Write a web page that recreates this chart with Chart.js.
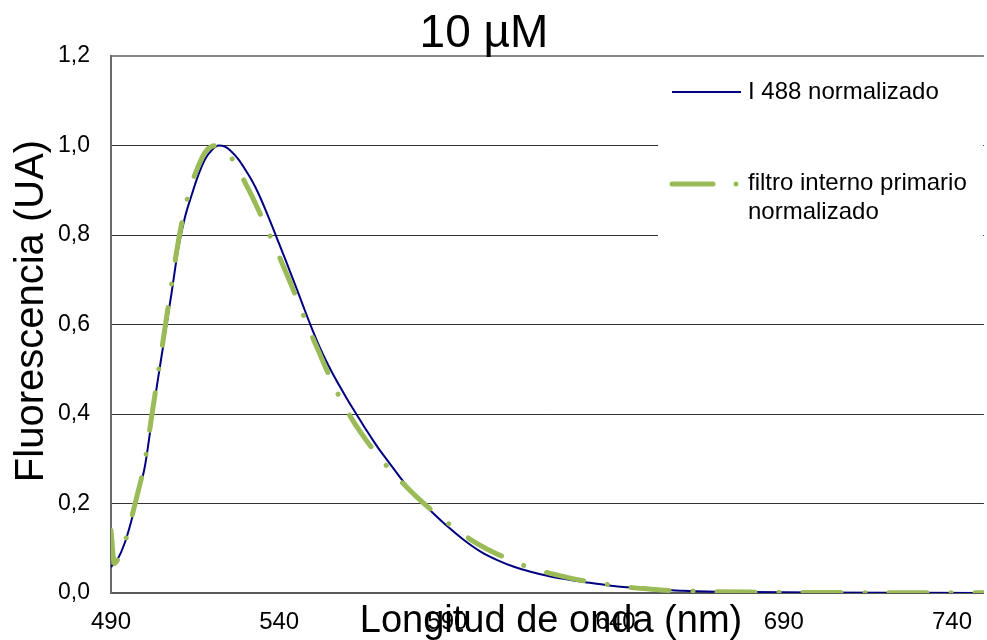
<!DOCTYPE html>
<html>
<head>
<meta charset="utf-8">
<script src="https://cdn.jsdelivr.net/npm/chart.js@4/dist/chart.umd.min.js"></script>
<style>
  html, body { margin: 0; padding: 0; background: #fff; }
  #chart { display: block; }
</style>
</head>
<body>
<canvas id="chart" width="987" height="640"></canvas>
<script>
// Espectros de emision normalizados
const blueNm = [490, 492, 494, 496, 498, 500, 502, 504, 506, 508, 510, 512, 514, 516, 518, 520, 522, 524, 526, 528, 530, 532, 534, 536, 538, 540, 542, 544, 546, 548, 550, 552, 554, 556, 558, 560, 562, 564, 566, 568, 570, 572, 574, 576, 578, 580, 582, 585, 590, 595, 600, 605, 610, 615, 620, 625, 630, 635, 640, 645, 650, 655, 660, 670, 680, 700, 720, 750];
const blueVals = [0.058, 0.076, 0.11, 0.16, 0.22, 0.28, 0.38, 0.48, 0.575, 0.67, 0.77, 0.84, 0.89, 0.935, 0.97, 0.99, 1.0, 0.997, 0.985, 0.968, 0.945, 0.92, 0.89, 0.855, 0.818, 0.78, 0.742, 0.703, 0.664, 0.624, 0.586, 0.55, 0.518, 0.489, 0.462, 0.436, 0.411, 0.387, 0.363, 0.34, 0.318, 0.298, 0.278, 0.258, 0.239, 0.222, 0.206, 0.184, 0.149, 0.118, 0.092, 0.073, 0.058, 0.047, 0.038, 0.031, 0.025, 0.02, 0.015, 0.012, 0.009, 0.007, 0.005, 0.003, 0.002, 0.001, 0.0005, 0];

const greenNm = [490, 491, 492, 494, 496, 498, 500, 502, 504, 506, 508, 510, 512, 514, 516, 518, 520, 522, 524, 526, 528, 530, 532, 534, 536, 538, 540, 542, 544, 546, 548, 550, 552, 555, 558, 562, 566, 570, 574, 578, 582, 586, 590, 594, 598, 602, 606, 610, 615, 620, 625, 630, 635, 640, 645, 650, 655, 660, 670, 680, 700, 720, 750];
const greenVals = [0.14, 0.066, 0.075, 0.11, 0.165, 0.225, 0.29, 0.39, 0.49, 0.59, 0.69, 0.785, 0.86, 0.915, 0.955, 0.985, 0.998, 1.0, 0.99, 0.97, 0.945, 0.915, 0.885, 0.853, 0.82, 0.786, 0.752, 0.717, 0.681, 0.644, 0.606, 0.57, 0.535, 0.484, 0.437, 0.384, 0.34, 0.301, 0.267, 0.236, 0.207, 0.181, 0.157, 0.135, 0.114, 0.097, 0.083, 0.07, 0.055, 0.045, 0.036, 0.028, 0.022, 0.016, 0.012, 0.009, 0.006, 0.005, 0.003, 0.002, 0.001, 0.0007, 0.0003];

const xTicks = [490, 540, 590, 640, 690, 740];
const seriesLabels = ["I 488 normalizado", "filtro interno primario normalizado"];
const chartTitle = "10 µM";
const xTitle = "Longitud de onda (nm)";
const yTitle = "Fluorescencia (UA)";

const FONT = '"Liberation Sans", Arial, sans-serif';
const BLUE = "#000080";
const GREEN = "#9bbb59";

function toPoints(xs, ys) {
  return xs.map((x, i) => ({ x: x, y: ys[i] }));
}

// titulo, titulos de ejes y leyenda dibujados a mano
const overlay = {
  id: "overlay",
  afterDraw(chart) {
    const ctx = chart.ctx;
    ctx.save();
    ctx.fillStyle = "#000";

    ctx.font = "46px " + FONT;
    ctx.textAlign = "center";
    ctx.textBaseline = "alphabetic";
    ctx.fillText(chartTitle, 484, 47);

    ctx.font = "38px " + FONT;
    ctx.fillText(xTitle, 551, 632);

    ctx.save();
    ctx.translate(43, 311);
    ctx.rotate(-Math.PI / 2);
    ctx.font = "40px " + FONT;
    ctx.fillText(yTitle, 0, 0);
    ctx.restore();

    // leyenda
    ctx.fillStyle = "#fff";
    ctx.fillRect(658, 62, 325, 178);

    ctx.lineCap = "butt";
    ctx.strokeStyle = BLUE;
    ctx.lineWidth = 2;
    ctx.beginPath();
    ctx.moveTo(672, 92);
    ctx.lineTo(741, 92);
    ctx.stroke();

    ctx.lineCap = "round";
    ctx.strokeStyle = GREEN;
    ctx.lineWidth = 5;
    ctx.beginPath();
    ctx.moveTo(672, 184);
    ctx.lineTo(713, 184);
    ctx.stroke();
    ctx.beginPath();
    ctx.arc(736, 184, 2.5, 0, Math.PI * 2);
    ctx.fillStyle = GREEN;
    ctx.fill();

    ctx.fillStyle = "#000";
    ctx.font = "24px " + FONT;
    ctx.textAlign = "left";
    ctx.textBaseline = "middle";
    ctx.fillText(seriesLabels[0], 748, 92);
    ctx.fillText("filtro interno primario", 748, 183);
    ctx.fillText("normalizado", 748, 212);
    ctx.restore();
  }
};

new Chart(document.getElementById("chart"), {
  type: "line",
  data: {
    datasets: [{
      label: seriesLabels[0],
      data: toPoints(blueNm, blueVals),
      borderColor: BLUE,
      borderWidth: 2,
      pointRadius: 0,
      cubicInterpolationMode: "monotone",
      order: 1
    }, {
      label: seriesLabels[1],
      data: toPoints(greenNm, greenVals),
      borderColor: GREEN,
      borderWidth: 5,
      borderDash: [38, 24, 0.01, 24],
      borderCapStyle: "round",
      pointRadius: 0,
      cubicInterpolationMode: "monotone",
      order: 0
    }]
  },
  options: {
    responsive: false,
    animation: false,
    layout: { padding: { top: 56, left: 0, right: 0, bottom: 0 } },
    plugins: {
      legend: { display: false },
      title: { display: false },
      tooltip: { enabled: false }
    },
    scales: {
      x: {
        type: "linear",
        min: 490,
        max: 749.5,
        afterFit(scale) { scale.height = 47; },
        afterBuildTicks(scale) {
          scale.ticks = xTicks.map(v => ({ value: v }));
        },
        grid: { display: false, drawTicks: false },
        border: { color: "#595959", width: 2 },
        ticks: {
          padding: 15,
          color: "#000",
          font: { family: FONT, size: 24 },
          maxRotation: 0,
          autoSkip: false,
          callback: v => String(v)
        }
      },
      y: {
        min: 0,
        max: 1.2,
        afterFit(scale) { scale.width = 111; },
        grid: {
          drawTicks: false,
          color: c => Math.abs(c.tick.value - 1.2) < 1e-6 ? "#888" : "#333",
          lineWidth: c => Math.abs(c.tick.value - 1.2) < 1e-6 ? 2 : 1
        },
        border: { color: "#6a6a6a", width: 2 },
        ticks: {
          stepSize: 0.2,
          padding: 21,
          color: "#000",
          font: { family: FONT, size: 23 },
          callback: v => v.toFixed(1).replace(".", ",")
        }
      }
    }
  },
  plugins: [overlay]
});
</script>
</body>
</html>
